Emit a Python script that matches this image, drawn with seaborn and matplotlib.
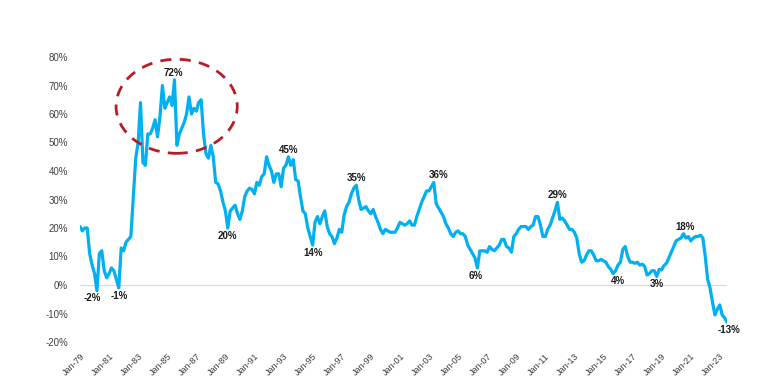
import pandas as pd
import numpy as np
import matplotlib
matplotlib.use('Agg')
import matplotlib.pyplot as plt
import matplotlib.dates as mdates
from matplotlib.patches import Ellipse
from matplotlib.ticker import FuncFormatter
import seaborn as sns

# bi-monthly series, Jan-1979 .. Jul-2023 (values in %)
dates = pd.date_range('1979-01-01', periods=268, freq='2MS')
values = [
    20.5, 19, 20, 20, 11, 7, 4, -2, 11, 12,
    5, 2.5, 4, 6, 5, 2, -1, 13, 12, 15,
    16, 17, 31, 44.5, 50, 64, 43, 42, 53, 53,
    55, 58, 52, 59, 70, 62, 64, 66, 63, 72,
    49, 53, 55, 57, 60, 66, 60, 62, 61, 64,
    65, 53, 46, 44.5, 49, 45, 36, 35.5, 33, 29,
    26, 20, 26, 27, 28, 25, 23, 26, 31, 33,
    34, 33.5, 32, 36, 35, 38, 39, 45, 42, 40,
    36, 39, 39, 34.5, 41, 42, 45, 42, 44, 37,
    36.5, 31, 26, 25, 20, 17, 14, 22, 24, 21.5,
    24, 26, 20.5, 18, 17, 14.5, 16.5, 19.5, 18.5, 24.5,
    27.5, 29, 32, 34, 35, 30, 26.5, 27, 27.5, 26,
    25, 26.5, 24, 22, 19.5, 18, 19.5, 19, 18.5, 18.5,
    18.5, 20, 22, 21.5, 21, 21.5, 22.5, 21, 21, 24,
    26.5, 29, 31, 33, 33, 34.5, 36, 28.5, 27, 25.5,
    24, 21.5, 20, 18, 17, 18.5, 19, 18, 18, 17,
    14, 12.5, 11, 9.5, 6, 12, 12, 12, 11.5, 13.5,
    12.5, 12, 13, 14, 16, 16, 13.5, 13, 11.5, 17,
    18, 19.5, 20.5, 20.5, 20.5, 19.5, 20.5, 21, 24, 24,
    21, 17, 17, 19.5, 21, 23.5, 26, 29, 23, 23.5,
    22.5, 21, 19.5, 19.5, 18.5, 16.5, 11, 8, 8.5, 10.5,
    12, 12, 10.5, 8.5, 8.5, 9, 8.5, 8, 6.5, 5.5,
    4, 5, 7, 8, 12.5, 13.5, 10, 8, 8, 7.6,
    8, 7, 7.3, 6.5, 3.5, 4, 5, 5, 3, 5.5,
    5.3, 6.8, 7.6, 9.5, 11.5, 13.5, 15.5, 16, 16.5, 18,
    16.5, 17, 15.5, 16.4, 17, 17, 17.5, 16.5, 10, 2,
    -1, -6, -10.5, -8.5, -7, -10.5, -11.5, -13,
]

# labelled highs / lows
peak_dates = ['1985-07', '1993-05', '1998-01', '2003-05', '2011-11', '2020-07']
trough_dates = ['1980-03', '1981-09', '1989-03', '1995-01', '2006-05',
                '2015-09', '2018-09', '2023-07']

# small horizontal nudges for a few labels (points)
nudge = {'1980-03': -3, '1985-07': -1, '2003-05': 3.5, '2006-05': -1.5,
         '2015-09': 3.5, '2020-07': 1.5, '2023-07': 1.5}

sns.set_style('white')
plt.rcParams['font.family'] = ['Liberation Sans', 'DejaVu Sans']

fig = plt.figure(figsize=(7.8, 3.85), dpi=100)
ax = fig.add_axes([80 / 780, 1 - 342 / 385, (727 - 80) / 780, (342 - 57) / 385])

ax.axhline(0, color='#D9D9D9', lw=0.8, zorder=0)
sns.lineplot(x=dates, y=values, color='#00B0F0', linewidth=2.3, ax=ax)

ax.set_xlim(dates[0], dates[-1])
ax.set_ylim(-20, 80)
ax.set_yticks(range(-20, 90, 10))
ax.yaxis.set_major_formatter(FuncFormatter(lambda v, p: f'{v:.0f}%'))
ax.set_xticks(pd.date_range('1979-01-01', '2023-01-01', freq='24MS'))
ax.xaxis.set_major_formatter(mdates.DateFormatter('%b-%y'))
ax.set_xlabel('')
ax.set_ylabel('')
for s in ax.spines.values():
    s.set_visible(False)
ax.grid(False)
ax.tick_params(axis='both', length=0, labelcolor='#404040')
ax.tick_params(axis='y', pad=8.5, labelsize=7)
ax.tick_params(axis='x', pad=7, labelsize=6.5)
plt.setp(ax.get_xticklabels(), rotation=45, ha='right', rotation_mode='anchor')

vals = pd.Series(values, index=dates)
for d in peak_dates + trough_dates:
    ts = pd.Timestamp(d)
    v = vals[ts]
    up = d in peak_dates
    ax.annotate(f'{v:.0f}%', (ts, v), xytext=(nudge.get(d, 0), 1.5 if up else -2),
                textcoords='offset points', ha='center',
                va='bottom' if up else 'top', fontsize=7, fontweight='bold',
                color='#1A1A1A', annotation_clip=False)

# dashed highlight round the mid-80s peak
center = mdates.date2num(pd.Timestamp('1985-08-25'))
ax.add_patch(Ellipse((center, 62.7), width=3044, height=33, fill=False,
                     edgecolor='#B81D24', lw=2, linestyle=(0, (4, 3)),
                     clip_on=False, zorder=5))

fig.savefig('out.png', dpi=100)
